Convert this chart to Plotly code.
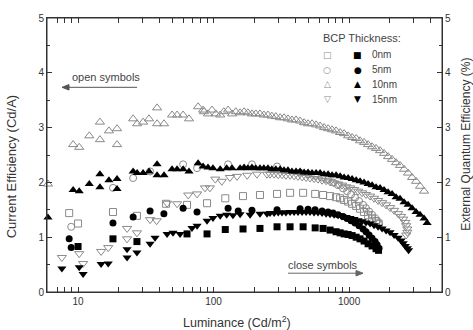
import plotly.graph_objects as go
import math

# ---------------- data ----------------
# Open symbols: current efficiency (Cd/A), left axis
# Filled symbols: external quantum efficiency (%), right axis

# 0 nm
lum_0nm = [8.6, 10.0, 18.1, 27.2, 44.6, 63.7, 89.5, 122, 165, 220, 294, 367, 458, 562, 643, 724,
           802, 859, 919, 984, 1053, 1128, 1205, 1290, 1381, 1478, 1582, 1650]
ce_0nm = [1.44, 1.25, 1.46, 1.39, 1.61, 1.59, 1.62, 1.71, 1.75, 1.77, 1.79, 1.81, 1.81, 1.79, 1.77, 1.75,
          1.73, 1.71, 1.68, 1.65, 1.61, 1.57, 1.52, 1.46, 1.40, 1.34, 1.29, 1.25]
lum_0nm_f = [10.0, 18.1, 27.2, 63.7, 89.5, 122, 165, 220, 294, 367, 458, 562, 643, 724,
             802, 859, 919, 984, 1053, 1128, 1205, 1290, 1381, 1478, 1582, 1650]
eqe_0nm = [0.83, 0.97, 0.92, 1.06, 1.06, 1.14, 1.15, 1.16, 1.19, 1.19, 1.19, 1.17, 1.16, 1.13,
           1.10, 1.08, 1.06, 1.05, 1.03, 1.00, 0.97, 0.93, 0.88, 0.84, 0.79, 0.76]

# 5 nm
lum_5nm = [8.9, 18.1, 25.5, 34, 59.6, 75.5, 128, 192, 294, 435, 498, 561, 632, 700, 762, 830, 903,
           967, 1035, 1107, 1185, 1269, 1334, 1405, 1478, 1556, 1610, 1664]
ce_5nm = [1.19, 1.90, 2.08, 2.20, 2.33, 2.26, 2.33, 2.33, 2.29, 2.18, 2.15, 2.12, 2.09, 2.05, 2.00, 1.95, 1.89,
          1.84, 1.78, 1.72, 1.66, 1.59, 1.53, 1.47, 1.41, 1.35, 1.30, 1.25]
lum_5nm_f = [8.6, 8.9, 18.1, 25.5, 34, 43, 59.6, 75.5, 128, 152, 192, 294, 435, 498, 561, 632, 700, 762,
             830, 903, 967, 1035, 1107, 1185, 1269, 1334, 1405, 1478, 1556, 1610, 1664]
eqe_5nm = [0.97, 0.81, 1.26, 1.37, 1.48, 1.43, 1.53, 1.46, 1.53, 1.48, 1.49, 1.50, 1.52, 1.51, 1.50, 1.48,
           1.46, 1.44, 1.41, 1.38, 1.34, 1.30, 1.26, 1.21, 1.15, 1.10, 1.04, 0.98, 0.92, 0.86, 0.80]

# 10 nm
lum_10nm = [6.0, 9.2, 10.2, 12.1, 14.5, 14.5, 16.9, 19.4, 19.4, 25.5, 27.3, 30.2, 33.4, 38.3, 38.3, 43.1,
            49.4, 53.8, 59.6, 65.9, 76.9, 83.7,
            85, 91, 97.4, 104, 112, 119, 128, 137, 146,
            157, 168, 179, 192, 205, 220, 235, 252, 269, 288, 310, 331, 354, 379, 406, 435, 466, 498, 533,
            571, 611, 654, 700, 749, 802, 859, 919, 984, 1053, 1128, 1205, 1290, 1381, 1478, 1582, 1693,
            1812, 1940, 2077, 2223, 2377, 2546, 2725, 2917, 3122, 3340, 3576]
ce_10nm = [1.97, 2.69, 2.64, 2.85, 2.78, 3.10, 2.94, 2.98, 2.69, 3.16, 3.07, 3.10, 3.16, 3.36, 3.07, 3.07,
           3.23, 3.23, 3.23, 3.16, 3.38, 3.32,
           3.29, 3.25, 3.32, 3.25, 3.23, 3.29, 3.32, 3.25, 3.29,
           3.27, 3.29, 3.27, 3.25, 3.25, 3.25, 3.23, 3.23, 3.21, 3.20, 3.18, 3.18, 3.16, 3.14, 3.14, 3.12,
           3.09, 3.07, 3.07, 3.05, 3.03, 3.00, 2.98, 2.96, 2.94, 2.91, 2.89, 2.85, 2.82, 2.80, 2.76, 2.73,
           2.69, 2.65, 2.62, 2.58, 2.53, 2.47, 2.42, 2.36, 2.31, 2.24, 2.17, 2.09, 2.02, 1.93, 1.84]
lum_10nm_f = [6.0, 9.2, 10.2, 12.1, 14.5, 14.5, 16.9, 19.4, 19.4, 25.5, 27.3, 30.2, 33.4, 38.3, 38.3, 43.1,
              49.4, 53.8, 59.6, 65.9, 76.9, 83.7, 91, 99, 112, 125, 137,
              157, 168, 179, 192, 205, 220, 235, 252, 269, 288, 310, 331, 354, 379, 406, 435, 466, 498,
              533, 571, 611, 654, 700, 749, 802, 859, 919, 984, 1053, 1128, 1205, 1290, 1381, 1478, 1582,
              1693, 1812, 1940, 2077, 2223, 2377, 2546, 2725, 2917, 3122, 3340, 3576, 3767]
eqe_10nm = [1.36, 1.86, 1.84, 1.97, 2.15, 1.91, 2.04, 2.06, 1.88, 2.20, 2.17, 2.17, 2.20, 2.33, 2.13, 2.13,
            2.24, 2.24, 2.24, 2.20, 2.35, 2.29, 2.27, 2.26, 2.24, 2.26, 2.26,
            2.26, 2.27, 2.26, 2.27, 2.26, 2.26, 2.26, 2.26, 2.24, 2.24, 2.24, 2.22, 2.22, 2.20, 2.20, 2.20,
            2.18, 2.18, 2.17, 2.17, 2.17, 2.15, 2.15, 2.13, 2.13, 2.11, 2.09, 2.08, 2.06, 2.04, 2.02, 2.00,
            1.97, 1.95, 1.91, 1.90, 1.86, 1.82, 1.79, 1.73, 1.70, 1.64, 1.59, 1.53, 1.46, 1.41, 1.34, 1.26]

# 15 nm
lum_15nm = [7.6, 10.2, 10.9, 14.8, 16.7, 23, 23, 27.2, 34, 38, 45.4, 53.8, 65, 75.6, 86.5, 94, 103, 115,
            132, 149, 177, 209, 248,
            261, 280, 300, 320, 342, 367, 393, 420, 450, 482, 515, 552, 590, 632, 677, 724, 775, 830, 888,
            951, 1017, 1089, 1166, 1248, 1334, 1429, 1529, 1637, 1752, 1876, 2007, 2149, 2300, 2420, 2510,
            2600, 2640, 2690, 2690, 2640]
ce_15nm = [0.63, 0.70, 0.52, 0.74, 0.81, 1.16, 0.97, 1.08, 1.32, 1.30, 1.62, 1.61, 1.77, 1.79, 1.90, 1.90,
           2.06, 2.02, 2.09, 2.11, 2.13, 2.15, 2.15,
           2.15, 2.15, 2.14, 2.14, 2.13, 2.13, 2.12, 2.11, 2.10, 2.09, 2.08, 2.07, 2.06, 2.04, 2.03, 2.01,
           1.99, 1.97, 1.95, 1.92, 1.90, 1.87, 1.84, 1.81, 1.78, 1.75, 1.71, 1.67, 1.63, 1.59, 1.54, 1.49,
           1.43, 1.38, 1.33, 1.27, 1.21, 1.15, 1.09, 1.04]
lum_15nm_f = [7.6, 10.2, 10.9, 14.8, 16.7, 23, 23, 27.2, 34, 37, 45.4, 50.2, 56.6, 69.3, 75.6, 89.5, 99,
              112, 125, 139, 157, 186, 220, 248,
              261, 280, 300, 320, 342, 367, 393, 420, 450, 482, 515, 552, 590, 632, 677, 724, 775, 830,
              888, 951, 1017, 1089, 1166, 1248, 1334, 1429, 1529, 1637, 1752, 1876, 2007, 2149, 2300,
              2420, 2510, 2600, 2690, 2750]
eqe_15nm = [0.43, 0.45, 0.33, 0.51, 0.52, 0.63, 0.78, 0.72, 0.88, 0.99, 1.06, 1.08, 1.06, 1.17, 1.21,
            1.30, 1.35, 1.39, 1.41, 1.40, 1.42, 1.41, 1.43, 1.43,
            1.44, 1.44, 1.45, 1.45, 1.45, 1.46, 1.46, 1.46, 1.46, 1.46, 1.46, 1.45, 1.45, 1.44, 1.43,
            1.42, 1.41, 1.40, 1.38, 1.37, 1.35, 1.33, 1.31, 1.29, 1.27, 1.25, 1.22, 1.19, 1.16, 1.12,
            1.09, 1.04, 0.99, 0.94, 0.89, 0.84, 0.80, 0.76]

legend_labels = ["0nm", "5nm", "10nm", "15nm"]
x_ticks = [10, 100, 1000]
x_minor_ticks = [6, 7, 8, 9, 20, 30, 40, 50, 60, 70, 80, 90,
                 200, 300, 400, 500, 600, 700, 800, 900, 2000, 3000, 4000]
y_ticks = [0, 1, 2, 3, 4, 5]

# ---------------- figure ----------------
GRAY = "#8a8a8a"
AX = "#333"
FONT = "Arial, Liberation Sans, sans-serif"
fig = go.Figure()

open_series = [(lum_0nm, ce_0nm, "square-open", 7), (lum_5nm, ce_5nm, "circle-open", 7),
               (lum_10nm, ce_10nm, "triangle-up-open", 8), (lum_15nm, ce_15nm, "triangle-down-open", 8)]
fill_series = [(lum_0nm_f, eqe_0nm, "square", 7), (lum_5nm_f, eqe_5nm, "circle", 7),
               (lum_10nm_f, eqe_10nm, "triangle-up", 8), (lum_15nm_f, eqe_15nm, "triangle-down", 8)]

for (xs, ys, sym, sz), name in zip(open_series, legend_labels):
    fig.add_trace(go.Scatter(x=xs, y=ys, mode="markers", name="CE " + name, cliponaxis=False,
                             marker=dict(symbol=sym, size=sz, color=GRAY, line=dict(color=GRAY, width=1)),
                             yaxis="y"))
for (xs, ys, sym, sz), name in zip(fill_series, legend_labels):
    fig.add_trace(go.Scatter(x=xs, y=ys, mode="markers", name="EQE " + name, cliponaxis=False,
                             marker=dict(symbol=sym, size=sz, color="black", line=dict(width=0)),
                             yaxis="y2"))

axis_common = dict(showline=True, linecolor=AX, linewidth=1, ticks="inside", tickcolor=AX,
                   ticklen=5, showgrid=False, zeroline=False,
                   tickfont=dict(family=FONT, size=10, color=AX))

fig.update_layout(
    width=473, height=330,
    margin=dict(l=47, r=31, t=15, b=38),
    paper_bgcolor="white", plot_bgcolor="white",
    showlegend=False,
    xaxis=dict(type="log", range=[math.log10(5.9), math.log10(4850)], tickvals=x_ticks,
               ticktext=[str(v) for v in x_ticks], mirror="allticks",
               minor=dict(ticks="inside", ticklen=3, tickcolor=AX, showgrid=False,
                          tickvals=x_minor_ticks),
               **axis_common),
    yaxis=dict(range=[0, 5], tickvals=y_ticks, mirror=False,
               minor=dict(ticks="inside", ticklen=3, dtick=0.5, tickcolor=AX, showgrid=False),
               **axis_common),
    yaxis2=dict(range=[0, 5], tickvals=y_ticks, overlaying="y", side="right",
                minor=dict(ticks="inside", ticklen=3, dtick=0.5, tickcolor=AX, showgrid=False),
                **axis_common),
)

# frame around the plot area
shapes = [dict(type="rect", xref="paper", yref="paper", x0=0, y0=0, x1=1, y1=1,
               line=dict(color=AX, width=1), layer="above")]
# arrows next to "open symbols" / "close symbols"
shapes.append(dict(type="line", xref="paper", yref="paper", x0=0.228, y0=0.747, x1=0.05, y1=0.747,
                   line=dict(color="#555", width=1)))
shapes.append(dict(type="path", xref="paper", yref="paper",
                   path="M 0.038 0.747 L 0.0557 0.757 L 0.0557 0.737 Z",
                   fillcolor="#555", line=dict(color="#555", width=1)))
shapes.append(dict(type="line", xref="paper", yref="paper", x0=0.61, y0=0.0686, x1=0.79, y1=0.0686,
                   line=dict(color="#666", width=1)))
shapes.append(dict(type="path", xref="paper", yref="paper",
                   path="M 0.8 0.0686 L 0.7823 0.0786 L 0.7823 0.0586 Z",
                   fillcolor="#666", line=dict(color="#666", width=1)))
fig.update_layout(shapes=shapes)


def label(text, x, y, size, color=AX, xanchor="center", family=FONT, angle=0):
    return dict(text=text, x=x, y=y, xref="paper", yref="paper", xanchor=xanchor, yanchor="middle",
                textangle=angle, showarrow=False, font=dict(family=family, size=size, color=color))


ann = []
# axis titles
ann.append(label("Luminance (Cd/m<sup>2</sup>)", 0.481, -0.108, 12.5))
ann.append(label("Current Efficiency (Cd/A)", -0.089, 0.458, 13, angle=-90))
ann.append(label("External Quantum Efficiency (%)", 1.060, 0.54, 12, angle=-90))
# arrow captions
ann.append(label("open symbols", 0.149, 0.785, 11, color="#444"))
ann.append(label("close symbols", 0.699, 0.097, 11, color="#444"))
# legend
ann.append(label("BCP Thickness:", 0.693, 0.928, 11, color="#444", xanchor="left"))
open_chars = ["□", "○", "△", "▽"]
fill_chars = ["■", "●", "▲", "▼"]
rows_y = [0.866, 0.812, 0.758, 0.704]
for oc, fc, lab, ry in zip(open_chars, fill_chars, legend_labels, rows_y):
    ann.append(label(oc, 0.709, ry, 9, color=GRAY, family="DejaVu Sans"))
    ann.append(label(fc, 0.787, ry, 9, color="black", family="DejaVu Sans"))
    ann.append(label(lab, 0.818, ry, 10, color="#444", xanchor="left"))
fig.update_layout(annotations=ann)

# remove the page's default 8px body margin so the figure fills the window
fig.write_html("out.html", config={"displayModeBar": False},
               post_script="document.body.style.margin='0';document.body.style.overflow='hidden';")
